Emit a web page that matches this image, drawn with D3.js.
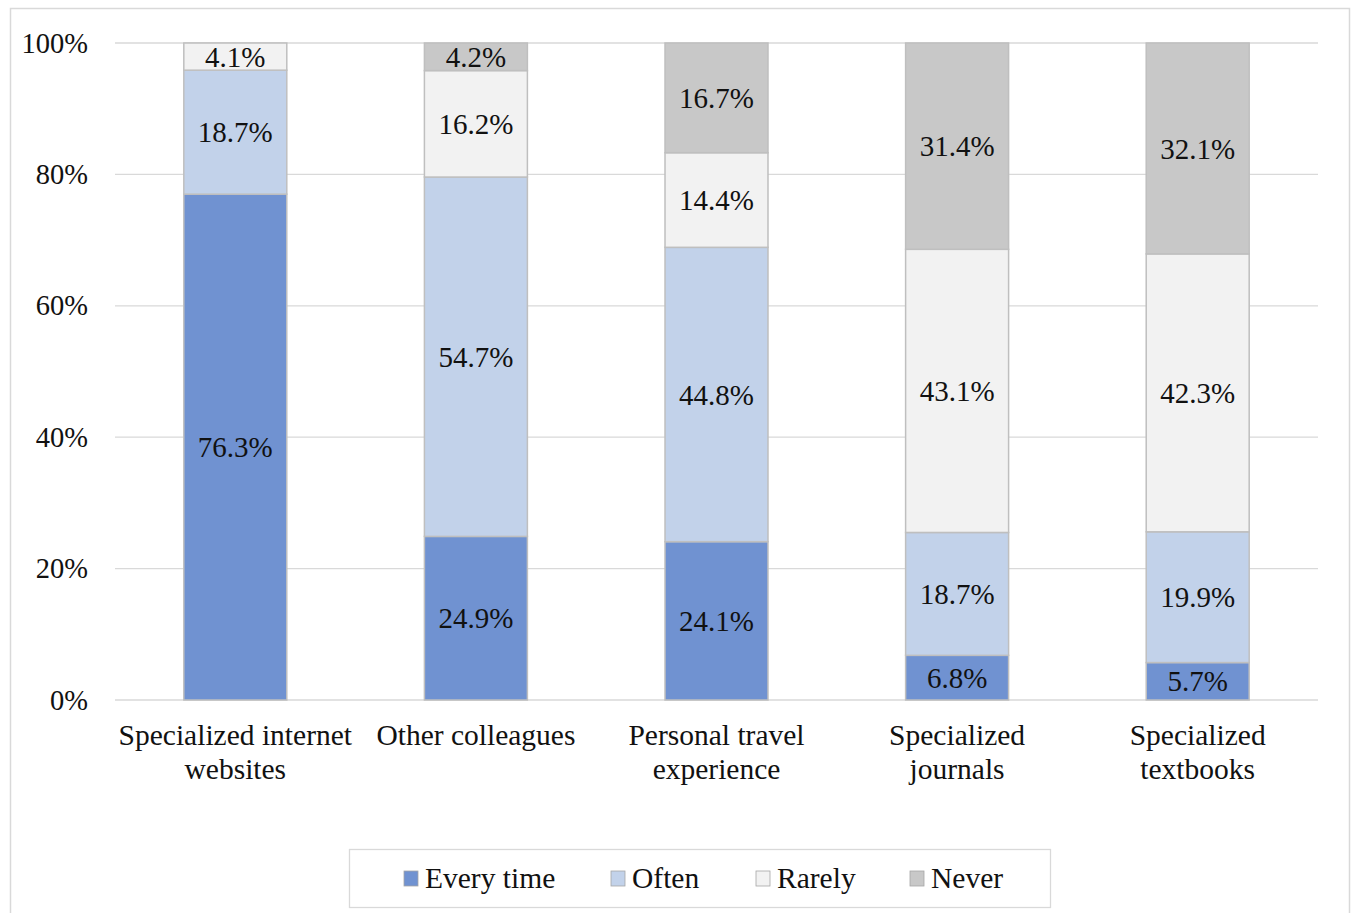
<!DOCTYPE html>
<html>
<head>
<meta charset="utf-8">
<script src="https://cdn.jsdelivr.net/npm/d3@7"></script>
<style>
  html, body { margin: 0; padding: 0; background: #fff; }
  svg { display: block; font-family: "Liberation Serif", "Times New Roman", serif; }
</style>
</head>
<body>
<svg id="chart" width="1354" height="913"></svg>
<script>
// Sources of information and how often each is used (percent of respondents)
const categories = [
  ["Specialized internet", "websites"],
  ["Other colleagues"],
  ["Personal travel", "experience"],
  ["Specialized", "journals"],
  ["Specialized", "textbooks"]
];
const seriesNames = ["Every time", "Often", "Rarely", "Never"];
const everyTime = [76.3, 24.9, 24.1, 6.8, 5.7];
const often     = [18.7, 54.7, 44.8, 18.7, 19.9];
const rarely    = [4.1, 16.2, 14.4, 43.1, 42.3];
const never     = [0, 4.2, 16.7, 31.4, 32.1];
const yTicks = [0, 0.2, 0.4, 0.6, 0.8, 1.0];

const colors = ["#7092d1", "#c2d2ea", "#f2f2f2", "#c8c8c8"];
const seriesValues = [everyTime, often, rarely, never];

const rows = categories.map((c, i) => {
  const r = { key: i };
  seriesNames.forEach((s, j) => { r[s] = seriesValues[j][i]; });
  return r;
});

const svg = d3.select("#chart");

// outer frame
svg.append("rect")
  .attr("x", 10.5).attr("y", 8.5)
  .attr("width", 1339).attr("height", 910)
  .attr("fill", "#fff").attr("stroke", "#d9d9d9").attr("stroke-width", 1.5);

const plot = { left: 115, right: 1318, top: 43, bottom: 700 };

const x = d3.scaleBand()
  .domain(d3.range(categories.length))
  .range([plot.left, plot.right])
  .paddingInner(0.572).paddingOuter(0.286);

const y = d3.scaleLinear().domain([0, 1]).range([plot.bottom, plot.top]);

// gridlines
svg.append("g")
  .selectAll("line")
  .data(yTicks)
  .join("line")
  .attr("x1", plot.left).attr("x2", plot.right)
  .attr("y1", d => y(d)).attr("y2", d => y(d))
  .attr("stroke", "#d9d9d9").attr("stroke-width", 1.3);

// y axis labels
const yAxis = d3.axisLeft(y).tickValues(yTicks)
  .tickFormat(d3.format(".0%")).tickSize(0).tickPadding(0);
const yg = svg.append("g").attr("transform", `translate(${plot.left - 27},0)`).call(yAxis);
yg.select(".domain").remove();
yg.selectAll("text")
  .attr("font-family", "Liberation Serif, serif")
  .attr("font-size", 28.5).attr("fill", "#111").attr("dy", "0.32em");

// stacked bars (normalised to 100%)
const stack = d3.stack().keys(seriesNames).offset(d3.stackOffsetExpand);
const layers = stack(rows);

const groups = svg.append("g").selectAll("g")
  .data(layers)
  .join("g")
  .attr("fill", (d, i) => colors[i]);

groups.selectAll("rect")
  .data(d => d.filter(s => s.data[d.key] > 0).map(s => ({ s, key: d.key })))
  .join("rect")
  .attr("x", d => x(d.s.data.key))
  .attr("width", x.bandwidth())
  .attr("y", d => y(d.s[1]))
  .attr("height", d => y(d.s[0]) - y(d.s[1]))
  .attr("stroke", "#bfbfbf").attr("stroke-width", 1.5);

// value labels
groups.selectAll("text")
  .data(d => d.filter(s => s.data[d.key] > 0).map(s => ({ s, key: d.key })))
  .join("text")
  .attr("x", d => x(d.s.data.key) + x.bandwidth() / 2)
  .attr("y", d => (y(d.s[0]) + y(d.s[1])) / 2)
  .attr("dy", "0.35em")
  .attr("text-anchor", "middle")
  .attr("font-size", 29).attr("fill", "#111")
  .text(d => d.s.data[d.key].toFixed(1) + "%");

// category labels
const xl = svg.append("g");
categories.forEach((lines, i) => {
  const t = xl.append("text")
    .attr("x", x(i) + x.bandwidth() / 2)
    .attr("y", 745)
    .attr("text-anchor", "middle")
    .attr("font-size", 29.5).attr("fill", "#111");
  lines.forEach((ln, k) => {
    t.append("tspan").attr("x", x(i) + x.bandwidth() / 2)
      .attr("dy", k === 0 ? 0 : 34).text(ln);
  });
});

// legend
const legend = svg.append("g");
legend.append("rect")
  .attr("x", 349.5).attr("y", 849.5).attr("width", 701).attr("height", 58)
  .attr("fill", "#fff").attr("stroke", "#d9d9d9").attr("stroke-width", 1.3);
const legendX = [404, 611, 756, 910];
seriesNames.forEach((s, i) => {
  legend.append("rect")
    .attr("x", legendX[i]).attr("y", 871)
    .attr("width", 14).attr("height", 15)
    .attr("fill", colors[i]).attr("stroke", "#a6a6a6").attr("stroke-width", 0.8);
  legend.append("text")
    .attr("x", legendX[i] + 21).attr("y", 888)
    .attr("font-size", 29.5).attr("fill", "#111")
    .text(s);
});
</script>
</body>
</html>
